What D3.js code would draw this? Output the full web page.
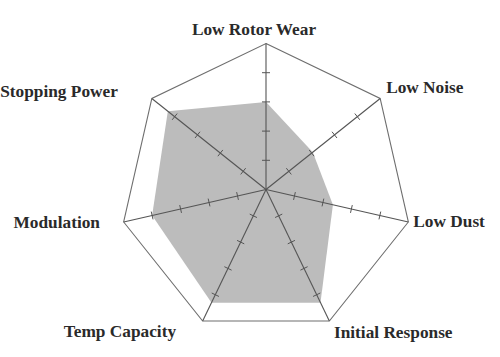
<!DOCTYPE html>
<html><head><meta charset="utf-8">
<script src="https://cdn.jsdelivr.net/npm/d3@7"></script>
<style>body{margin:0;background:#fff}svg{display:block}</style>
</head><body>
<svg id="chart" width="500" height="357"></svg>
<script>
const categories = ["Low Rotor Wear","Low Noise","Low Dust","Initial Response","Temp Capacity","Modulation","Stopping Power"];
const values = [3, 2.05, 2.35, 4.3, 4.3, 4, 4.3];
const maxValue = 5;
const tickValues = [1, 2, 3, 4];

// label layout: anchor and offset from the axis end point
const labelLayout = [
  {anchor:"middle", dx:-12, dy:-8.5},
  {anchor:"start", dx:6, dy:-5.8},
  {anchor:"start", dx:5, dy:4.7},
  {anchor:"start", dx:4.6, dy:16.7},
  {anchor:"end", dx:-26.6, dy:15.7},
  {anchor:"end", dx:-23.7, dy:6},
  {anchor:"end", dx:-34, dy:-1.8}
];

const svg = d3.select("#chart");
const cx = 266, cy = 189.5, R = 146;
const n = categories.length;
const r = d3.scaleLinear().domain([0, maxValue]).range([0, R]);
const angle = d3.scaleLinear().domain([0, n]).range([-Math.PI/2, 1.5*Math.PI]);
const pt = (i, v) => [cx + r(v)*Math.cos(angle(i)), cy + r(v)*Math.sin(angle(i))];

const g = svg.append("g");

// data polygon
g.append("path")
  .attr("d", d3.line()(values.map((v,i)=>pt(i,v))) + "Z")
  .attr("fill", "#bcbcbc").attr("stroke", "none");

// outer polygon
g.append("path")
  .attr("d", d3.line()(categories.map((c,i)=>pt(i,maxValue))) + "Z")
  .attr("fill", "none").attr("stroke", "#6e6e6e").attr("stroke-width", 1.1);

// axes
categories.forEach((c,i)=>{
  const [x2,y2] = pt(i,maxValue);
  g.append("line").attr("x1",cx).attr("y1",cy).attr("x2",x2).attr("y2",y2)
    .attr("stroke","#555").attr("stroke-width",1.1);
  const a = angle(i);
  const px = -Math.sin(a), py = Math.cos(a);
  tickValues.forEach(t=>{
    const [tx,ty] = pt(i,t);
    g.append("line")
      .attr("x1", tx - px*4).attr("y1", ty - py*4)
      .attr("x2", tx + px*4).attr("y2", ty + py*4)
      .attr("stroke","#555").attr("stroke-width",1);
  });
});

// labels
categories.forEach((c,i)=>{
  const [x,y] = pt(i,maxValue);
  const L = labelLayout[i];
  svg.append("text")
    .attr("x", x + L.dx).attr("y", y + L.dy)
    .attr("text-anchor", L.anchor)
    .attr("font-family", "'Liberation Serif', 'Times New Roman', serif")
    .attr("font-weight", "bold")
    .attr("font-size", "17.3px")
    .attr("fill", "#2a2a2a")
    .text(c);
});
</script>
</body></html>
